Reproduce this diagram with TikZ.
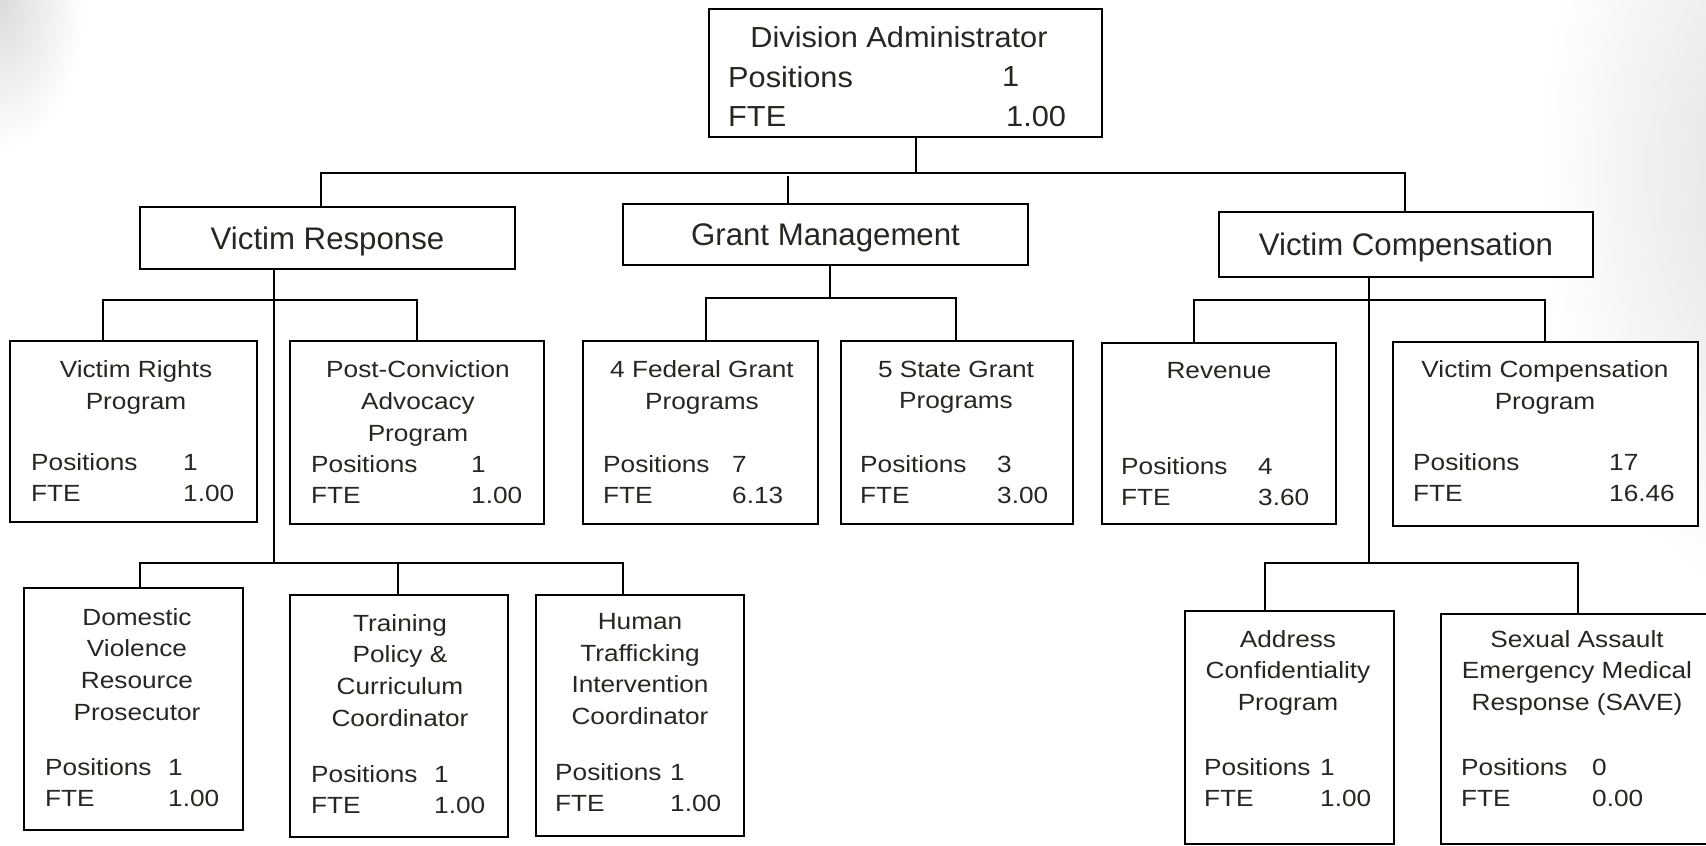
\documentclass[tikz,border=0pt]{standalone}
\usepackage{fontspec}
\setmainfont{Liberation Sans}
\newfontfamily\smallf[FakeStretch=1.12]{Liberation Sans}
\newfontfamily\divf[FakeStretch=1.06]{Liberation Sans}
\definecolor{txt}{RGB}{40,38,32}
\begin{document}
\begin{tikzpicture}[x=1pt,y=-1pt,
  boxst/.style={draw=black, line width=2.8pt, inner sep=0pt, outer sep=0pt, fill=white},
  bigt/.style={font=\fontsize{31.2}{36}\selectfont, text=txt, text height=22.3pt, text depth=0pt, align=center},
  divt/.style={font=\divf\fontsize{29}{34}\selectfont, text=txt, inner sep=0pt, anchor=west},
  smt/.style={font=\smallf\fontsize{23.4}{31.8}\selectfont, text=txt, inner sep=0pt},
  ttl/.style={smt, align=center, anchor=north},
  conn/.style={draw=black, line width=2.2pt},
  thk/.style={draw=black, line width=2.8pt},
  thn/.style={draw=black, line width=1.5pt}]
\useasboundingbox (0,0) rectangle (1706,846);
\clip (0,0) rectangle (1706,846);
\fill[white] (0,0) rectangle (1706,846);
\shade[inner color=black!14, outer color=white] (0,0) ellipse [x radius=85, y radius=150];
\shade[inner color=black!12, outer color=white] (1770,170) ellipse [x radius=230, y radius=430];
\newcommand\obox[5]{\node[boxst, minimum width={#4-#2}, minimum height={#5-#3}] (#1) at ({(#2+#4)/2},{(#3+#5)/2}) {};}
\newcommand\stats[6]{%
 \node[smt, anchor=west] (#1-p) at (#2,#3) {Positions};
 \node[smt, anchor=west] (#1-pv) at (#4,#3) {#5};
 \node[smt, anchor=west] (#1-f) at (#2,{#3+31}) {FTE};
 \node[smt, anchor=west] (#1-fv) at (#4,{#3+31}) {#6};}
% coordinates of the buses
\coordinate (topbus) at (0,173);
\coordinate (vrbus1) at (0,300);
\coordinate (vrbus2) at (0,563);
\coordinate (gmbus) at (0,298);
\coordinate (vcbus1) at (0,300);
\coordinate (vcbus2) at (0,563);
% division administrator
\obox{div}{709}{9}{1102}{137}
\node[divt, anchor=center] (div-t) at (899,37) {Division Administrator};
\node[divt] (div-p) at (728,77) {Positions};
\node[divt] (div-pv) at (1002,77) {1};
\node[divt] (div-f) at (728,117) {FTE};
\node[divt] (div-fv) at (1006,117) {1.00};
% second level
\node[boxst, bigt, minimum width=375, minimum height=62] (vr) at (327.5,238) {Victim Response};
\node[boxst, bigt, minimum width=405, minimum height=61] (gm) at (825.5,234.5) {Grant Management};
\node[boxst, bigt, minimum width=374, minimum height=65] (vc) at (1406,244.5) {Victim Compensation};
% third level boxes
\obox{vrp}{10}{341}{257}{522}
\obox{pca}{290}{341}{544}{524}
\obox{fed}{583}{341}{818}{524}
\obox{st}{841}{341}{1073}{524}
\obox{rev}{1102}{343}{1336}{524}
\obox{vcp}{1393}{342}{1698}{526}
\obox{dv}{24}{588}{243}{830}
\obox{tr}{290}{595}{508}{837}
\obox{ht}{536}{595}{744}{836}
\obox{acp}{1185}{611}{1394}{844}
\obox{save}{1441}{614}{1730}{844}
% texts
\node[ttl] (vrp-t) at (136,360.6) {Victim Rights\\Program};
\stats{vrp}{31}{462}{183}{1}{1.00}
\node[ttl] (pca-t) at (418,360.6) {Post-Conviction\\Advocacy\\Program};
\stats{pca}{311}{464}{471}{1}{1.00}
\node[ttl] (fed-t) at (702,360.6) {4 Federal Grant\\Programs};
\stats{fed}{603}{464}{732}{7}{6.13}
\node[ttl] (st-t) at (956,360.6) {5 State Grant\\Programs};
\stats{st}{860}{464}{997}{3}{3.00}
\node[ttl] (rev-t) at (1219,362) {Revenue};
\stats{rev}{1121}{466}{1258}{4}{3.60}
\node[ttl] (vcp-t) at (1545,360.6) {Victim Compensation\\Program};
\stats{vcp}{1413}{462}{1609}{17}{16.46}
\node[ttl] (dv-t) at (137,608) {Domestic\\Violence\\Resource\\Prosecutor};
\stats{dv}{45}{767}{168}{1}{1.00}
\node[ttl] (tr-t) at (400,614) {Training\\Policy \&\\Curriculum\\Coordinator};
\stats{tr}{311}{774}{434}{1}{1.00}
\node[ttl] (ht-t) at (640,613) {Human\\Trafficking\\Intervention\\Coordinator};
\stats{ht}{555}{772}{670}{1}{1.00}
\node[ttl] (acp-t) at (1288,630) {Address\\Confidentiality\\Program};
\stats{acp}{1204}{767}{1320}{1}{1.00}
\node[ttl] (save-t) at (1577,630) {Sexual Assault\\Emergency Medical\\Response (SAVE)};
\stats{save}{1461}{767}{1592}{0}{0.00}
% connectors: top
\draw[conn] ([xshift=10.5]div.south) -- ([xshift=10.5]div.south |- topbus);
\draw[conn] ([xshift=-6.5]vr.north) |- ([xshift=-1]vc.north |- topbus) -- ([xshift=-1]vc.north);
\draw[thn] ([xshift=-37.5]gm.north) -- ([xshift=-37.5]gm.north |- 0,176);
% victim response
\draw[thk] ([xshift=-53.5]vr.south) -- ([xshift=-53.5]vr.south |- vrbus2);
\draw[conn] ([xshift=-30.5]vrp.north) |- (pca.north |- vrbus1) -- (pca.north);
\draw[thk] ([xshift=6.5]dv.north) |- ([xshift=-17]ht.north |- vrbus2) -- ([xshift=-17]ht.north);
\draw[thk] ([xshift=-1]tr.north) -- ([xshift=-1]tr.north |- vrbus2);
% grant management
\draw[thn] ([xshift=4.5]gm.south) -- ([xshift=4.5]gm.south |- gmbus);
\draw[conn] ([xshift=5.5]fed.north) |- ([xshift=-1]st.north |- gmbus) -- ([xshift=-1]st.north);
% victim compensation
\draw[thn] ([xshift=-37]vc.south) -- ([xshift=-37]vc.south |- vcbus2);
\draw[thk] ([xshift=-25]rev.north) |- ([xshift=-0.5]vcp.north |- vcbus1) -- ([xshift=-0.5]vcp.north);
\draw[thk] ([xshift=-24.5]acp.north) |- ([xshift=-7.5]save.north |- vcbus2) -- ([xshift=-7.5]save.north);
\end{tikzpicture}
\end{document}
